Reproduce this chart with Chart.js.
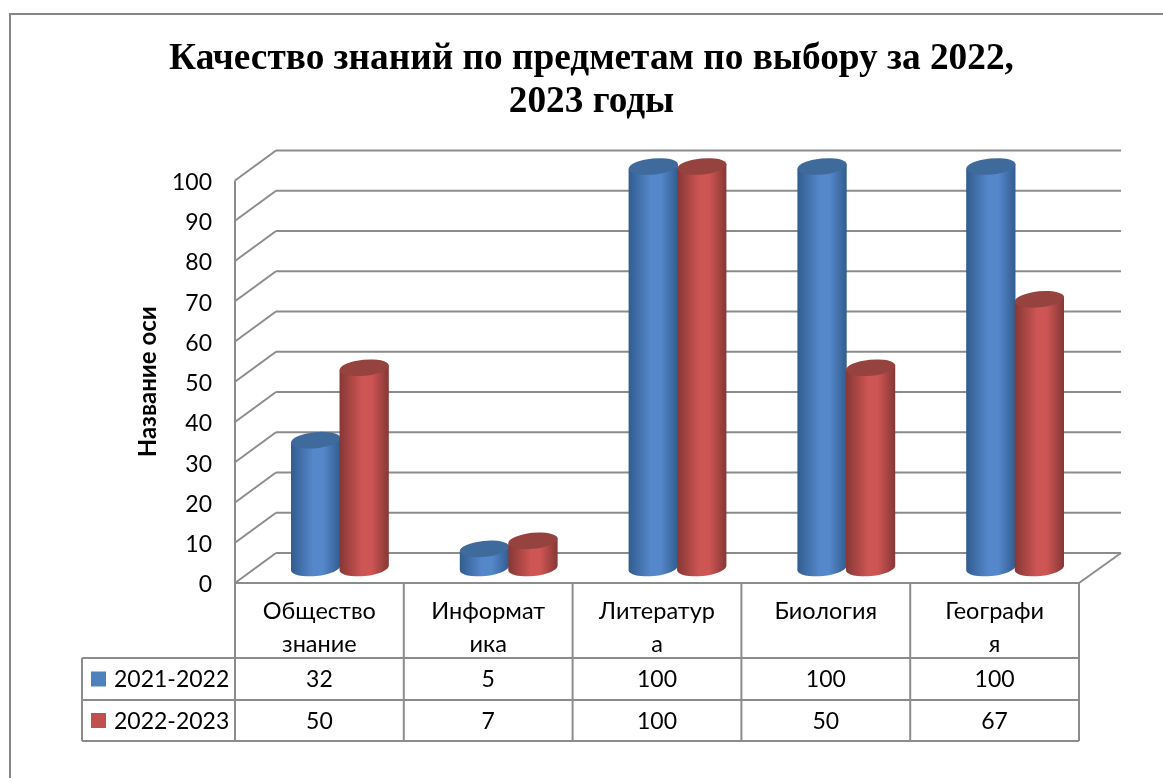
<!DOCTYPE html>
<html>
<head>
<meta charset="utf-8">
<script src="https://cdn.jsdelivr.net/npm/chart.js@4"></script>
<style>
  html, body { margin: 0; padding: 0; background: #fff; overflow: hidden; }
  #frame { position: absolute; left: 9px; top: 13px; width: 1300px; height: 900px; border-left: 2px solid #868686; border-top: 2px solid #868686; }
  #myChart { display: block; }
</style>
</head>
<body>
<div id="frame"><canvas id="myChart" width="1163" height="763"></canvas></div>
<script>
var categories = [["Общество", "знание"], ["Информат", "ика"], ["Литератур", "а"], "Биология", ["Географи", "я"]];
var seriesNames = ["2021-2022", "2022-2023"];
var values2122 = [32, 5, 100, 100, 100];
var values2223 = [50, 7, 100, 50, 67];
var chartTitle = ["Качество знаний по предметам по выбору за 2022,", "2023 годы"];
var axisTitle = "Название оси";

var textFont = "Lato, 'Open Sans', sans-serif";
var lineColor = "#8c8c8c";
// colours for the cylinders: edge, light middle, top cap
var shades = [
  { key: "#4f81bd", edge: "#315c8e", mid: "#5587cb", cap: "#3f6a9c" },
  { key: "#c0504d", edge: "#853735", mid: "#cd5553", cap: "#964340" }
];

function seg(ctx, x1, y1, x2, y2) {
  ctx.beginPath();
  ctx.moveTo(x1, y1);
  ctx.lineTo(x2, y2);
  ctx.stroke();
}

function drawWalls(chart) {
  var ctx = chart.ctx, y = chart.scales.y, x = chart.scales.x;
  var dx = 41, dy = -30;
  ctx.save();
  ctx.strokeStyle = lineColor;
  ctx.lineWidth = 2;
  y.ticks.forEach(function (t) {
    var py = y.getPixelForValue(t.value);
    seg(ctx, x.left, py, x.left + dx, py + dy);
    seg(ctx, x.left + dx, py + dy, x.right + dx + 1, py + dy);
  });
  seg(ctx, x.left, y.top, x.left, y.bottom);
  var by = y.getPixelForValue(0);
  seg(ctx, x.right, by, x.right + dx + 1, by + dy);
  ctx.restore();
}

function drawCylinder(ctx, bar, shade) {
  var cx = bar.x + 20.5, topY = bar.y - 14, baseY = bar.base - 15;
  var rx = bar.width / 2 + 0.5, ry = 8, tilt = -0.1;
  var sx = rx * Math.cos(tilt), sy = rx * Math.sin(tilt);
  var g = ctx.createLinearGradient(cx - rx, 0, cx + rx, 0);
  g.addColorStop(0, shade.edge);
  g.addColorStop(0.45, shade.mid);
  g.addColorStop(0.65, shade.mid);
  g.addColorStop(1, shade.edge);
  ctx.fillStyle = g;
  ctx.beginPath();
  ctx.moveTo(cx - sx, topY - sy);
  ctx.lineTo(cx - sx, baseY - sy);
  ctx.ellipse(cx, baseY, rx, ry, tilt, Math.PI, 0, true);
  ctx.lineTo(cx + sx, topY + sy);
  ctx.closePath();
  ctx.fill();
  ctx.fillStyle = shade.cap;
  ctx.beginPath();
  ctx.ellipse(cx, topY, rx, ry, tilt, 0, Math.PI * 2);
  ctx.fill();
}

function drawTable(chart) {
  var ctx = chart.ctx, x = chart.scales.x, y = chart.scales.y;
  // canvas sits 11px right and 15px down inside the page
  var tableLeft = 71, row1 = 643, row2 = 685, row3 = 726;
  ctx.save();
  ctx.strokeStyle = lineColor;
  ctx.lineWidth = 2;
  seg(ctx, x.left, y.bottom, x.right, y.bottom);
  categories.forEach(function (c, i) {
    var px = x.getPixelForValue(i - 0.5);
    seg(ctx, px, y.bottom, px, row3);
  });
  seg(ctx, x.right, y.bottom, x.right, row3);
  seg(ctx, tableLeft, row1, x.right, row1);
  seg(ctx, tableLeft, row2, x.right, row2);
  seg(ctx, tableLeft, row3, x.right, row3);
  seg(ctx, tableLeft, row1, tableLeft, row3);

  ctx.font = "23px " + textFont;
  ctx.textBaseline = "middle";
  chart.data.datasets.forEach(function (ds, d) {
    var rowY = (d === 0 ? row1 + row2 : row2 + row3) / 2;
    ctx.fillStyle = shades[d].key;
    ctx.fillRect(tableLeft + 9, rowY - 7.5, 15, 15);
    ctx.fillStyle = "#000";
    ctx.textAlign = "left";
    ctx.fillText(ds.label, tableLeft + 32, rowY + 1);
    ctx.textAlign = "center";
    ds.data.forEach(function (v, i) {
      ctx.fillText(String(v), x.getPixelForValue(i), rowY + 1);
    });
  });
  ctx.restore();
}

var cylinders = {
  id: "cylinders",
  beforeDatasetsDraw: function (chart) {
    var ctx = chart.ctx;
    drawWalls(chart);
    chart.data.datasets.forEach(function (ds, d) {
      chart.getDatasetMeta(d).data.forEach(function (bar) {
        drawCylinder(ctx, bar, shades[d]);
      });
    });
    drawTable(chart);
    return false;
  }
};

var ctx = document.getElementById("myChart").getContext("2d");
var chart = new Chart(ctx, {
  type: "bar",
  data: {
    labels: categories,
    datasets: [
      { label: seriesNames[0], data: values2122, backgroundColor: shades[0].key },
      { label: seriesNames[1], data: values2223, backgroundColor: shades[1].key }
    ]
  },
  plugins: [cylinders],
  options: {
    responsive: false,
    animation: false,
    categoryPercentage: 0.575,
    barPercentage: 1,
    layout: { padding: { left: 93, right: 95, top: 0, bottom: 0 } },
    plugins: {
      legend: { display: false },
      tooltip: { enabled: false },
      title: {
        display: true,
        text: chartTitle,
        color: "#000",
        font: { family: "'Liberation Serif', serif", size: 37.3, weight: "bold", lineHeight: 43 / 37.3 },
        padding: { top: 23, bottom: 56.5 }
      }
    },
    scales: {
      x: {
        grid: { display: false },
        border: { display: false },
        afterFit: function (s) { s.height = 195; },
        ticks: {
          autoSkip: false,
          maxRotation: 0,
          color: "#000",
          padding: 4,
          font: { family: textFont, size: 23.5, lineHeight: 33 / 23.5 }
        }
      },
      y: {
        min: 0,
        max: 100,
        grid: { display: false },
        border: { display: false },
        afterFit: function (s) { s.width = 131; },
        ticks: {
          stepSize: 10,
          color: "#000",
          padding: 15,
          // empty first line with a small line height pushes the digits 2px down
          callback: function (v) { return ["", String(v)]; },
          font: { family: textFont, size: 23, lineHeight: 4 / 23 }
        },
        title: {
          display: true,
          text: axisTitle,
          color: "#000",
          padding: { top: 30, bottom: 0 },
          font: { family: textFont, size: 24, weight: "bold" }
        }
      }
    }
  }
});
</script>
</body>
</html>
